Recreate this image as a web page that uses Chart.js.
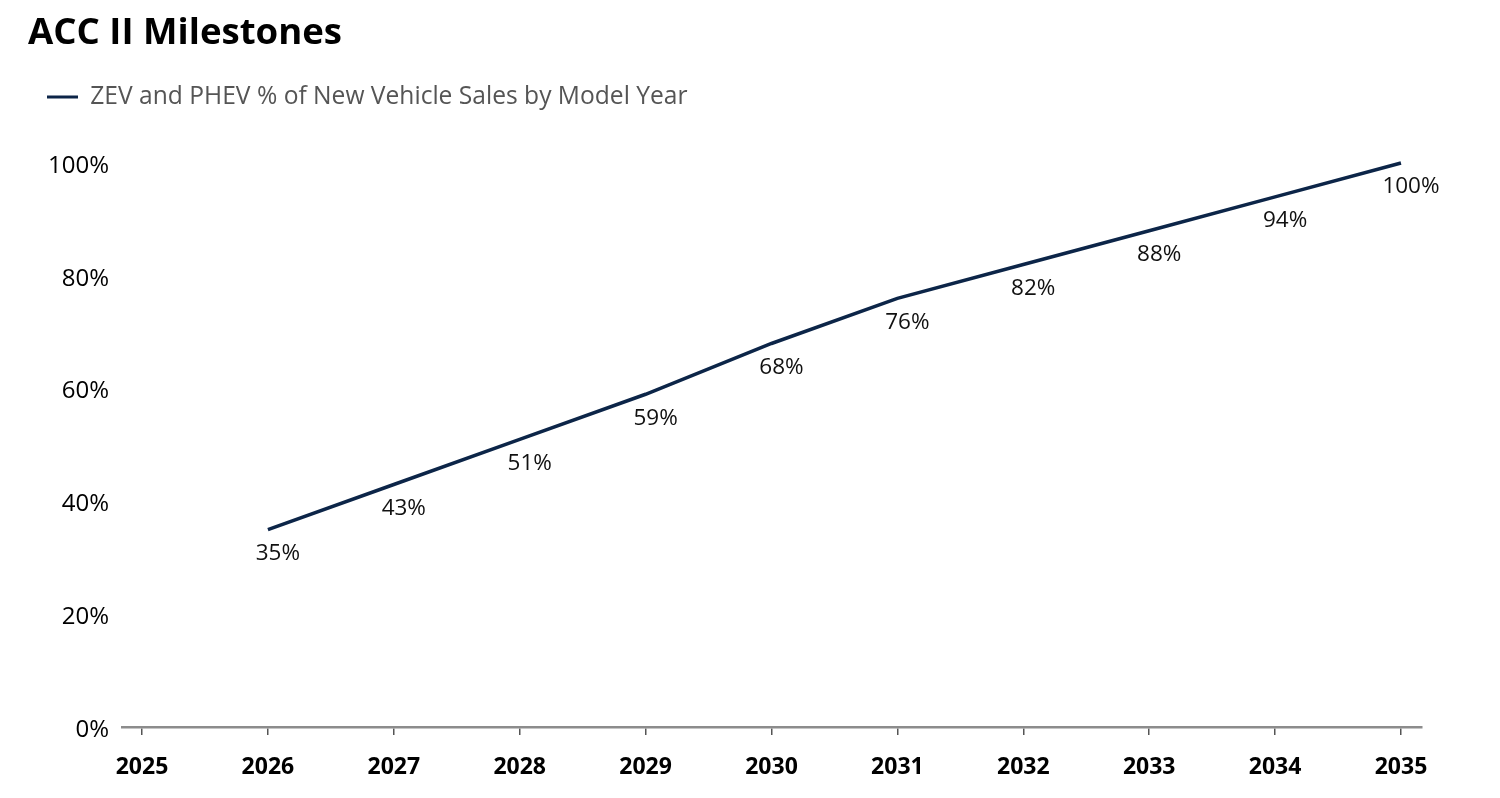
<!DOCTYPE html>
<html>
<head>
<meta charset="utf-8">
<script src="https://cdn.jsdelivr.net/npm/chart.js@4/dist/chart.umd.min.js"></script>
<style>
  html, body { margin: 0; padding: 0; background: #ffffff; }
  #wrap { width: 1500px; height: 798px; position: relative; }
</style>
</head>
<body>
<div id="wrap"><canvas id="c" width="1500" height="798"></canvas></div>
<script>
// ---- data ----
const titleText = 'ACC II Milestones';
const seriesName = 'ZEV and PHEV % of New Vehicle Sales by Model Year';
const years = [2025, 2026, 2027, 2028, 2029, 2030, 2031, 2032, 2033, 2034, 2035];
const zevShare = [null, 35, 43, 51, 59, 68, 76, 82, 88, 94, 100];
const yTicks = [0, 20, 40, 60, 80, 100];

const NAVY = '#0c2548';
const FONT = "'Open Sans', 'Noto Sans', sans-serif";

const points = years.map((y, i) => ({ x: y, y: zevShare[i] })).filter(p => p.y !== null);

const pointLabels = {
  id: 'pointLabels',
  afterDatasetsDraw(chart) {
    const ctx = chart.ctx;
    const meta = chart.getDatasetMeta(0);
    ctx.save();
    ctx.font = '22.5px ' + FONT;
    ctx.fillStyle = '#111111';
    ctx.textAlign = 'center';
    ctx.textBaseline = 'middle';
    meta.data.forEach((el, i) => {
      const v = chart.data.datasets[0].data[i].y;
      ctx.fillText(v + '%', el.x + 10, el.y + 24);
    });
    ctx.restore();
  }
};

new Chart(document.getElementById('c'), {
  type: 'line',
  data: {
    datasets: [{
      label: seriesName,
      data: points,
      borderColor: NAVY,
      backgroundColor: NAVY,
      borderWidth: 3.5,
      pointRadius: 0,
      pointHoverRadius: 0,
      tension: 0,
      clip: false
    }]
  },
  options: {
    responsive: false,
    animation: false,
    devicePixelRatio: 1,
    layout: { padding: { left: 28, right: 78, top: 0, bottom: 0 } },
    plugins: {
      title: {
        display: true,
        text: titleText,
        align: 'start',
        color: '#000000',
        font: { family: FONT, size: 36.6, weight: 'bold', lineHeight: 1.2 },
        padding: { top: 12, bottom: 9.8 }
      },
      subtitle: {
        display: true,
        text: '',
        weight: 500,
        font: { size: 10, lineHeight: 1 },
        padding: { top: 33.7, bottom: 0 }
      },
      legend: {
        display: true,
        position: 'top',
        align: 'start',
        labels: {
          color: '#555555',
          font: { family: FONT, size: 24.6 },
          boxWidth: 31,
          boxHeight: 3,
          padding: 19,
          generateLabels: (chart) => Chart.defaults.plugins.legend.labels.generateLabels(chart)
            .map(l => Object.assign(l, { lineWidth: 0, fillStyle: NAVY, strokeStyle: NAVY }))
        }
      },
      tooltip: { enabled: false }
    },
    scales: {
      x: {
        type: 'linear',
        min: 2024.841,
        max: 2035.167,
        afterBuildTicks: (scale) => { scale.ticks = years.map(v => ({ value: v })); },
        afterFit: (scale) => { scale.height = 71; },
        border: { display: true, color: '#8c8c8c', width: 2.5 },
        grid: { display: true, drawOnChartArea: false, drawTicks: true, tickLength: 8, color: '#555555', lineWidth: 1.5 },
        ticks: {
          color: '#000000',
          font: { family: FONT, size: 23, weight: 'bold' },
          padding: 19,
          maxRotation: 0,
          autoSkip: false,
          callback: (v) => String(v)
        }
      },
      y: {
        min: 0,
        max: 100,
        afterBuildTicks: (scale) => { scale.ticks = yTicks.map(v => ({ value: v })); },
        afterFit: (scale) => { scale.width = 94; },
        border: { display: false },
        grid: { display: false, drawTicks: false },
        ticks: {
          color: '#000000',
          font: { family: FONT, size: 24 },
          padding: 13,
          labelOffset: 3,
          callback: (v) => v + '%'
        }
      }
    }
  },
  plugins: [pointLabels]
});
</script>
</body>
</html>
